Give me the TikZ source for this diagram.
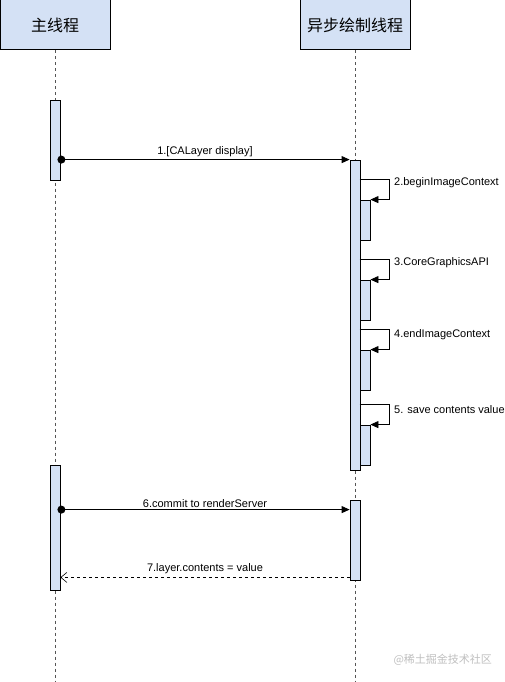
\documentclass[tikz,border=0pt]{standalone}
\usepackage{fontspec}
\setmainfont{Liberation Sans}
\newfontfamily\cjk{Noto Sans CJK SC}
\usetikzlibrary{arrows.meta}
\definecolor{actfill}{HTML}{D4E1F5}
\definecolor{lifegray}{HTML}{555555}
\begin{document}
\begin{tikzpicture}[x=1pt,y=-1pt,
  header/.style={draw=black, line width=1pt, fill=actfill, minimum width=110pt, minimum height=50pt, inner sep=0pt, font=\cjk\fontsize{16}{18}\selectfont},
  act/.style={draw=black, line width=0.8pt, fill=actfill, minimum width=10pt, inner sep=0pt},
  lifeline/.style={draw=lifegray, line width=0.8pt, dash pattern=on 3pt off 3pt},
  msg/.style={draw=black, line width=0.8pt, -{Triangle[length=8pt,width=7pt]}},
  ret/.style={draw=black, line width=0.6pt, dash pattern=on 3pt off 3pt, -{Straight Barb[length=6pt,width=10pt,line width=0.6pt]}},
  lbl/.style={font=\fontsize{11}{13}\selectfont, inner sep=2pt},
]
\useasboundingbox (0,0) rectangle (504,682);
% headers
\node[header] (h1) at (55,25) {主线程};
\node[header] (h2) at (355,25) {异步绘制线程};
% lifelines
\coordinate (e1) at (55,682);
\coordinate (e2) at (355,682);
\draw[lifeline] (h1.south) -- (e1);
\draw[lifeline] (h2.south) -- (e2);
% activations
\node[act, minimum height=80pt] (a1) at (55,140) {};
\node[act, minimum height=310pt] (b1) at (355,315) {};
\node[act, minimum height=40pt] (n2) at (365,220) {};
\node[act, minimum height=40pt] (n3) at (365,300) {};
\node[act, minimum height=40pt] (n4) at (365,370) {};
\node[act, minimum height=40pt] (n5) at (365,445) {};
\node[act, minimum height=125pt] (a2) at (55,527.5) {};
\node[act, minimum height=80pt] (b2) at (355,540) {};
% message 1
\draw[msg] (a1.east |- b1.north west) -- node[lbl, above] {1.[CALayer display]} (b1.north west);
\fill (a1.east |- b1.north west) ++(1pt,0) circle (4pt);
% self calls
\draw[msg] ([yshift=20pt]n2.north west) -- ++(30,0) |- (n2.north east);
\node[lbl, anchor=west] (t2) at (392,183) {2.beginImageContext};
\draw[msg] ([yshift=20pt]n3.north west) -- ++(30,0) |- (n3.north east);
\node[lbl, anchor=west] (t3) at (392,263) {3.CoreGraphicsAPI};
\draw[msg] ([yshift=20pt]n4.north west) -- ++(30,0) |- (n4.north east);
\node[lbl, anchor=west] (t4) at (392,335) {4.endImageContext};
\draw[msg] ([yshift=20pt]n5.north west) -- ++(30,0) |- (n5.north east);
\node[lbl, anchor=west] (t5) at (392,410) {5. save contents value};
% message 6
\coordinate (m6e) at ([yshift=-10pt]b2.north west);
\coordinate (m6s) at (a2.east |- m6e);
\draw[msg] (m6s) -- node[lbl, above] {6.commit to renderServer} (m6e);
\fill (m6s) ++(1pt,0) circle (4pt);
% message 7
\coordinate (m7s) at ([yshift=3pt]b2.south west);
\coordinate (m7e) at (a2.east |- m7s);
\draw[ret] (m7s) -- node[lbl, above, yshift=1pt] {7.layer.contents = value} (m7e);
% watermark
\node[font=\cjk\fontsize{11}{13}\selectfont, text=black!25, anchor=west] (wm) at (390,660) {@稀土掘金技术社区};
\end{tikzpicture}
\end{document}
